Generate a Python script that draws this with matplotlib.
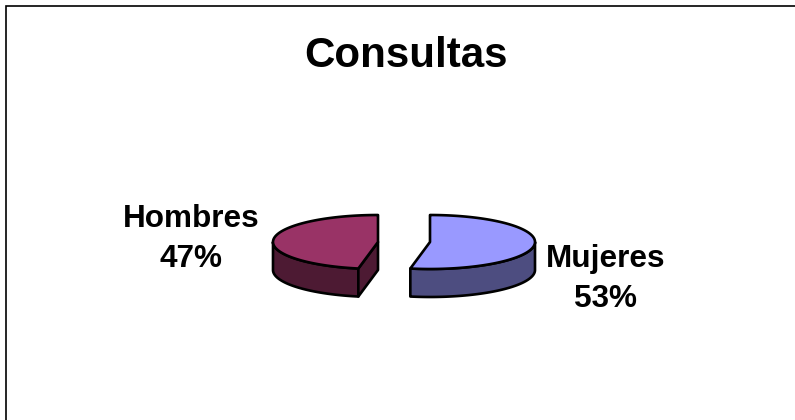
import numpy as np
import matplotlib
matplotlib.use("Agg")
import matplotlib.pyplot as plt

title = "Consultas"
categories = ["Mujeres", "Hombres"]
values = [53, 47]
top_colors = ["#9999FF", "#993366"]
side_colors = ["#4D4D80", "#4D1A33"]

plt.rcParams['font.family'] = ['Liberation Sans', 'DejaVu Sans']
fig = plt.figure(figsize=(7.95, 4.2), dpi=100)
ax = fig.add_axes([0, 0, 1, 1])
ax.set_xlim(0, 795); ax.set_ylim(420, 0); ax.axis('off')

RX, RY, DEPTH = 105, 27, 28
CY = 242
centers = [430, 378]
LW = 1.9
total = sum(values)

def pt(cx, a):
    return cx + RX*np.cos(a), CY - RY*np.sin(a)

def draw_face(xs, ys, c):
    ax.fill(xs, ys, facecolor=c, edgecolor='black', lw=LW, joinstyle='round')

# Mujeres runs clockwise from 12 o'clock, Hombres counter-clockwise from 12 o'clock
sweep0 = np.radians(values[0] / total * 360)
sweep1 = np.radians(values[1] / total * 360)
a0 = np.linspace(np.pi/2, np.pi/2 - sweep0, 200)
a1 = np.linspace(np.pi/2, np.pi/2 + sweep1, 200)

# Mujeres
cx = centers[0]
vis = a0[np.sin(a0) <= 0]
x, y = pt(cx, vis)
draw_face(np.r_[x, x[::-1]], np.r_[y, y[::-1] + DEPTH], side_colors[0])
x, y = pt(cx, a0)
draw_face(np.r_[cx, x], np.r_[CY, y], top_colors[0])

# Hombres
cx = centers[1]
vis = a1[np.sin(a1) <= 0]
x, y = pt(cx, vis)
draw_face(np.r_[x, x[::-1]], np.r_[y, y[::-1] + DEPTH], side_colors[1])
ex, ey = pt(cx, a1[-1])
draw_face([cx, ex, ex, cx], [CY, ey, ey + DEPTH, CY + DEPTH], side_colors[1])
x, y = pt(cx, a1)
draw_face(np.r_[cx, x], np.r_[CY, y], top_colors[1])

# Outer frame: only top and left edges are in view
ax.plot([6, 6, 795], [420, 6, 6], color='black', lw=1.2, solid_joinstyle='miter')

ax.text(405.5, 56, title, ha='center', va='center', fontsize=30.3, fontweight='bold')
ax.text(605.5, 279, f"{categories[0]}\n{values[0]}%", ha='center', va='center',
        fontsize=22.7, fontweight='bold', linespacing=1.42)
ax.text(191.5, 239, f"{categories[1]}\n{values[1]}%", ha='center', va='center',
        fontsize=22.7, fontweight='bold', linespacing=1.42)

fig.savefig("out.png", dpi=100, facecolor='white')
